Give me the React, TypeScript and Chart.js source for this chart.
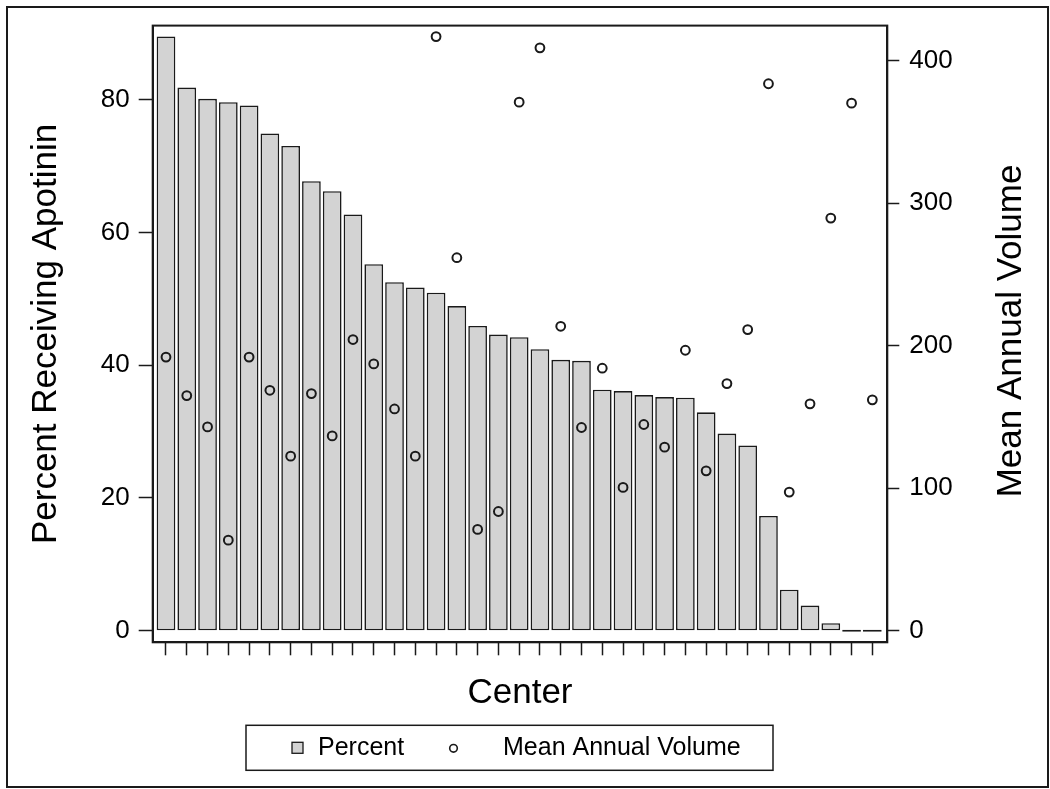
import React, { useEffect, useRef } from 'react';
import { Chart, registerables } from 'chart.js';

Chart.register(...registerables);

// ---- data ----
const centers = [
  1, 2, 3, 4, 5, 6, 7, 8, 9, 10, 11, 12, 13, 14, 15, 16, 17, 18,
  19, 20, 21, 22, 23, 24, 25, 26, 27, 28, 29, 30, 31, 32, 33, 34, 35,
];
const percent = [
  89.5, 81.8, 80.1, 79.6, 79.1, 74.9, 73.0, 67.7, 66.2, 62.7, 55.2, 52.5,
  51.7, 50.9, 48.9, 45.9, 44.6, 44.2, 42.4, 40.8, 40.65, 36.3, 36.1, 35.5,
  35.2, 35.1, 32.9, 29.7, 27.9, 17.3, 6.2, 3.8, 1.15, 0, 0,
];
const volume = [
  192, 165, 143, 63.6, 192, 168.7, 122.5, 166.4, 136.7, 204.3, 187.2, 155.6,
  122.5, 416.8, 261.7, 71.1, 83.7, 370.8, 408.9, 213.6, 142.6, 184.2, 100.6,
  144.7, 128.8, 196.8, 112.2, 173.4, 211.3, 383.7, 97.3, 159.2, 289.5, 370.1,
  162,
];
const percentTicks = [0, 20, 40, 60, 80];
const volumeTicks = [0, 100, 200, 300, 400];

const FONT = "'Liberation Sans', Arial, Helvetica, sans-serif";
const INK = '#1a1a1a';
const BAR_FILL = '#d3d3d3';

export default function App() {
  const ref = useRef<HTMLCanvasElement>(null);

  useEffect(() => {
    const canvas = ref.current;
    if (!canvas) return;

    const decorations = {
      id: 'decorations',
      afterDraw(chart: any) {
        const { ctx, chartArea: a } = chart;
        ctx.save();
        // plot frame
        ctx.strokeStyle = INK;
        ctx.lineWidth = 2;
        ctx.strokeRect(a.left, a.top, a.right - a.left, a.bottom - a.top);
        ctx.restore();

        // right axis title (reads bottom-to-top)
        ctx.save();
        ctx.fillStyle = '#000';
        ctx.font = `35px ${FONT}`;
        ctx.translate(a.right + 123.7, (a.top + a.bottom) / 2 - 3);
        ctx.rotate(-Math.PI / 2);
        ctx.textAlign = 'center';
        ctx.textBaseline = 'middle';
        ctx.fillText('Mean Annual Volume', 0, 0);
        ctx.restore();

        // legend box
        const lx = 246;
        const ly = a.bottom + 83;
        ctx.save();
        ctx.strokeStyle = INK;
        ctx.lineWidth = 1.5;
        ctx.strokeRect(lx, ly, 527, 45);
        // Percent swatch
        ctx.fillStyle = BAR_FILL;
        ctx.fillRect(lx + 46, ly + 17, 11, 11);
        ctx.lineWidth = 1.3;
        ctx.strokeRect(lx + 46, ly + 17, 11, 11);
        ctx.fillStyle = '#000';
        ctx.font = `25px ${FONT}`;
        ctx.textAlign = 'left';
        ctx.textBaseline = 'alphabetic';
        ctx.fillText('Percent', lx + 72, ly + 30);
        // volume marker
        ctx.beginPath();
        ctx.lineWidth = 1.6;
        ctx.arc(lx + 207.5, ly + 23, 3.8, 0, Math.PI * 2);
        ctx.stroke();
        ctx.fillText('Mean Annual Volume', lx + 257, ly + 30);
        ctx.restore();
      },
    };

    const chart = new Chart(canvas, {
      type: 'bar',
      data: {
        datasets: [
          {
            type: 'scatter',
            label: 'Mean Annual Volume',
            data: centers.map((_, i) => ({ x: i, y: volume[i] })),
            yAxisID: 'y1',
            pointStyle: 'circle',
            pointRadius: 4.4,
            pointBorderWidth: 2,
            borderWidth: 2,
            borderColor: INK,
            backgroundColor: 'rgba(0,0,0,0)',
            order: 0,
          } as any,
          {
            type: 'bar',
            label: 'Percent',
            data: centers.map((_, i) => ({ x: i, y: percent[i] })),
            yAxisID: 'y',
            backgroundColor: BAR_FILL,
            borderColor: INK,
            borderWidth: 1.6,
            borderSkipped: false,
            categoryPercentage: 1,
            barPercentage: 0.9,
            minBarLength: 2,
            order: 1,
          } as any,
        ],
      },
      options: {
        responsive: false,
        animation: false,
        devicePixelRatio: 1,
        layout: { padding: { left: 0, top: 25, right: 0, bottom: 66.7 } },
        plugins: {
          legend: { display: false },
          tooltip: { enabled: false },
        },
        scales: {
          x: {
            type: 'linear',
            offset: false,
            min: -0.64,
            max: 34.72,
            afterBuildTicks: (axis: any) => {
              axis.ticks = centers.map((_, i) => ({ value: i }));
            },
            ticks: {
              callback: () => '',
              autoSkip: false,
              maxRotation: 0,
              padding: 0,
              font: { size: 10 },
            },
            grid: {
              offset: false,
              drawOnChartArea: false,
              drawTicks: true,
              tickLength: 13,
              tickWidth: 1.5,
              tickColor: INK,
            },
            border: { display: true, color: INK, width: 2 },
            title: {
              display: true,
              text: 'Center',
              color: '#000',
              font: { family: FONT, size: 35 },
              padding: { top: 0, bottom: 7.7 },
            },
            afterFit: (s: any) => {
              s.height = 80;
            },
          },
          y: {
            position: 'left',
            min: -1.73,
            max: 91.13,
            afterBuildTicks: (axis: any) => {
              axis.ticks = percentTicks.map((v) => ({ value: v }));
            },
            ticks: {
              color: '#000',
              font: { family: FONT, size: 26 },
              padding: 9,
            },
            grid: {
              drawOnChartArea: false,
              tickLength: 14,
              tickWidth: 1.5,
              tickColor: INK,
            },
            border: { display: true, color: INK, width: 2 },
            title: {
              display: true,
              text: 'Percent Receiving Apotinin',
              color: '#000',
              font: { family: FONT, size: 35 },
              padding: { top: 25, bottom: 0 },
            },
            afterFit: (s: any) => {
              s.width = 152.7;
            },
          },
          y1: {
            position: 'right',
            min: -8.06,
            max: 424.5,
            afterBuildTicks: (axis: any) => {
              axis.ticks = volumeTicks.map((v) => ({ value: v }));
            },
            ticks: {
              color: '#000',
              font: { family: FONT, size: 26 },
              padding: 10,
            },
            grid: {
              drawOnChartArea: false,
              tickLength: 12,
              tickWidth: 1.5,
              tickColor: INK,
            },
            border: { display: true, color: INK, width: 2 },
            title: { display: false },
            afterFit: (s: any) => {
              s.width = 162.7;
            },
          },
        },
      } as any,
      plugins: [decorations],
    });

    return () => chart.destroy();
  }, []);

  return (
    <div style={{ position: 'absolute', left: 0, top: 0, width: 1050, height: 789, background: '#fff' }}>
      <canvas
        ref={ref}
        width={1050}
        height={789}
        style={{ position: 'absolute', left: 0, top: 0, width: 1050, height: 789 }}
      />
      <div
        style={{
          position: 'absolute',
          left: 6,
          top: 6,
          width: 1043,
          height: 782,
          border: `2px solid ${INK}`,
          boxSizing: 'border-box',
          pointerEvents: 'none',
        }}
      />
    </div>
  );
}
